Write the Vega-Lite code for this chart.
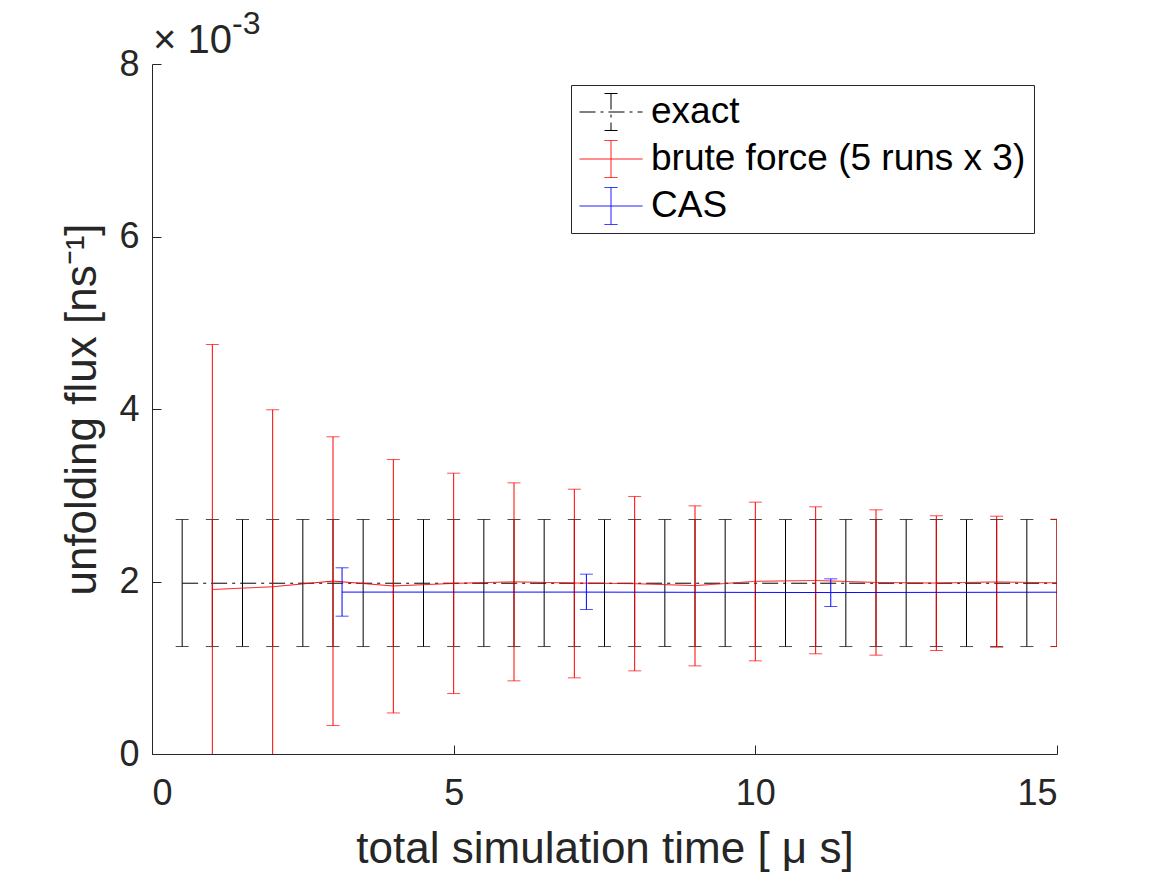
{
  "$schema": "https://vega.github.io/schema/vega-lite/v6.json",
  "width": 905,
  "height": 690,
  "autosize": "none",
  "padding": {"left": 152, "top": 64, "right": 110, "bottom": 121},
  "background": "white",
  "datasets": {
    "exact": [
      {"t": 0.5, "flux": 0.00198, "lo": 0.001246, "hi": 0.002719, "series": "exact"},
      {"t": 1.0, "flux": 0.00198, "lo": 0.001246, "hi": 0.002719, "series": "exact"},
      {"t": 1.5, "flux": 0.00198, "lo": 0.001246, "hi": 0.002719, "series": "exact"},
      {"t": 2.0, "flux": 0.00198, "lo": 0.001246, "hi": 0.002719, "series": "exact"},
      {"t": 2.5, "flux": 0.00198, "lo": 0.001246, "hi": 0.002719, "series": "exact"},
      {"t": 3.0, "flux": 0.00198, "lo": 0.001246, "hi": 0.002719, "series": "exact"},
      {"t": 3.5, "flux": 0.00198, "lo": 0.001246, "hi": 0.002719, "series": "exact"},
      {"t": 4.0, "flux": 0.00198, "lo": 0.001246, "hi": 0.002719, "series": "exact"},
      {"t": 4.5, "flux": 0.00198, "lo": 0.001246, "hi": 0.002719, "series": "exact"},
      {"t": 5.0, "flux": 0.00198, "lo": 0.001246, "hi": 0.002719, "series": "exact"},
      {"t": 5.5, "flux": 0.00198, "lo": 0.001246, "hi": 0.002719, "series": "exact"},
      {"t": 6.0, "flux": 0.00198, "lo": 0.001246, "hi": 0.002719, "series": "exact"},
      {"t": 6.5, "flux": 0.00198, "lo": 0.001246, "hi": 0.002719, "series": "exact"},
      {"t": 7.0, "flux": 0.00198, "lo": 0.001246, "hi": 0.002719, "series": "exact"},
      {"t": 7.5, "flux": 0.00198, "lo": 0.001246, "hi": 0.002719, "series": "exact"},
      {"t": 8.0, "flux": 0.00198, "lo": 0.001246, "hi": 0.002719, "series": "exact"},
      {"t": 8.5, "flux": 0.00198, "lo": 0.001246, "hi": 0.002719, "series": "exact"},
      {"t": 9.0, "flux": 0.00198, "lo": 0.001246, "hi": 0.002719, "series": "exact"},
      {"t": 9.5, "flux": 0.00198, "lo": 0.001246, "hi": 0.002719, "series": "exact"},
      {"t": 10.0, "flux": 0.00198, "lo": 0.001246, "hi": 0.002719, "series": "exact"},
      {"t": 10.5, "flux": 0.00198, "lo": 0.001246, "hi": 0.002719, "series": "exact"},
      {"t": 11.0, "flux": 0.00198, "lo": 0.001246, "hi": 0.002719, "series": "exact"},
      {"t": 11.5, "flux": 0.00198, "lo": 0.001246, "hi": 0.002719, "series": "exact"},
      {"t": 12.0, "flux": 0.00198, "lo": 0.001246, "hi": 0.002719, "series": "exact"},
      {"t": 12.5, "flux": 0.00198, "lo": 0.001246, "hi": 0.002719, "series": "exact"},
      {"t": 13.0, "flux": 0.00198, "lo": 0.001246, "hi": 0.002719, "series": "exact"},
      {"t": 13.5, "flux": 0.00198, "lo": 0.001246, "hi": 0.002719, "series": "exact"},
      {"t": 14.0, "flux": 0.00198, "lo": 0.001246, "hi": 0.002719, "series": "exact"},
      {"t": 14.5, "flux": 0.00198, "lo": 0.001246, "hi": 0.002719, "series": "exact"},
      {"t": 15.0, "flux": 0.00198, "lo": 0.001246, "hi": 0.002719, "series": "exact"}
    ],
    "brute": [
      {"t": 1, "flux": 0.001907, "lo": -0.000934, "hi": 0.004748, "series": "brute force (5 runs x 3)"},
      {"t": 2, "flux": 0.001939, "lo": -0.000113, "hi": 0.003991, "series": "brute force (5 runs x 3)"},
      {"t": 3, "flux": 0.002005, "lo": 0.000330, "hi": 0.003678, "series": "brute force (5 runs x 3)"},
      {"t": 4, "flux": 0.001948, "lo": 0.000476, "hi": 0.003414, "series": "brute force (5 runs x 3)"},
      {"t": 5, "flux": 0.001978, "lo": 0.000701, "hi": 0.003256, "series": "brute force (5 runs x 3)"},
      {"t": 6, "flux": 0.001996, "lo": 0.000848, "hi": 0.003144, "series": "brute force (5 runs x 3)"},
      {"t": 7, "flux": 0.001982, "lo": 0.000883, "hi": 0.003070, "series": "brute force (5 runs x 3)"},
      {"t": 8, "flux": 0.001975, "lo": 0.000964, "hi": 0.002986, "series": "brute force (5 runs x 3)"},
      {"t": 9, "flux": 0.001952, "lo": 0.001022, "hi": 0.002877, "series": "brute force (5 runs x 3)"},
      {"t": 10, "flux": 0.002002, "lo": 0.001080, "hi": 0.002920, "series": "brute force (5 runs x 3)"},
      {"t": 11, "flux": 0.002012, "lo": 0.001162, "hi": 0.002866, "series": "brute force (5 runs x 3)"},
      {"t": 12, "flux": 0.001989, "lo": 0.001146, "hi": 0.002831, "series": "brute force (5 runs x 3)"},
      {"t": 13, "flux": 0.001982, "lo": 0.001200, "hi": 0.002762, "series": "brute force (5 runs x 3)"},
      {"t": 14, "flux": 0.001995, "lo": 0.001238, "hi": 0.002757, "series": "brute force (5 runs x 3)"},
      {"t": 15, "flux": 0.001984, "lo": 0.001246, "hi": 0.002722, "series": "brute force (5 runs x 3)"}
    ],
    "cas": [
      {"t": 3.15, "flux": 0.001877, "lo": 0.001598, "hi": 0.002159, "series": "CAS"},
      {"t": 7.2, "flux": 0.001877, "lo": 0.001675, "hi": 0.002085, "series": "CAS"},
      {"t": 11.25, "flux": 0.001872, "lo": 0.001710, "hi": 0.002031, "series": "CAS"},
      {"t": 15, "flux": 0.001876, "lo": null, "hi": null, "series": "CAS"}
    ],
    "exponent": [
      {"t": 0, "flux": 0.008, "base": "× 10", "power": "-3"}
    ]
  },
  "layer": [
    {
      "data": {"name": "exact"},
      "mark": {"type": "line", "strokeWidth": 1, "clip": true},
      "encoding": {
        "x": {"field": "t", "type": "quantitative", "scale": {"domain": [0, 15], "nice": false},
              "title": "total simulation time [ μ s]",
              "axis": {"values": [0, 5, 10, 15], "format": "d", "labelPadding": 31, "titlePadding": 16}},
        "y": {"field": "flux", "type": "quantitative", "scale": {"domain": [0, 0.008], "nice": false},
              "title": "unfolding flux [ns⁻¹]",
              "axis": {"values": [0, 0.002, 0.004, 0.006, 0.008], "labelExpr": "format(datum.value * 1000, 'd')", "labelPadding": 22, "titlePadding": 14}},
        "color": {"field": "series", "type": "nominal",
                  "scale": {"domain": ["exact", "brute force (5 runs x 3)", "CAS"], "range": ["#000000", "#ff0000", "#0000ff"]},
                  "legend": {"orient": "none", "legendX": 419, "legendY": 21, "title": null}},
        "strokeDash": {"field": "series", "type": "nominal",
                  "scale": {"domain": ["exact", "brute force (5 runs x 3)", "CAS"], "range": [[16, 5, 3, 5], [1, 0], [1, 0]]},
                  "legend": {"orient": "none", "legendX": 419, "legendY": 21, "title": null}}
      }
    },
    {
      "data": {"name": "exact"},
      "mark": {"type": "errorbar", "ticks": {"size": 13}, "thickness": 1, "clip": true},
      "encoding": {
        "x": {"field": "t", "type": "quantitative", "title": "total simulation time [ μ s]"},
        "y": {"field": "lo", "type": "quantitative", "title": "unfolding flux [ns⁻¹]"},
        "y2": {"field": "hi"},
        "color": {"field": "series", "type": "nominal"}
      }
    },
    {
      "data": {"name": "brute"},
      "mark": {"type": "line", "strokeWidth": 1, "clip": true},
      "encoding": {
        "x": {"field": "t", "type": "quantitative", "title": "total simulation time [ μ s]"},
        "y": {"field": "flux", "type": "quantitative", "title": "unfolding flux [ns⁻¹]"},
        "color": {"field": "series", "type": "nominal"},
        "strokeDash": {"field": "series", "type": "nominal"}
      }
    },
    {
      "data": {"name": "brute"},
      "mark": {"type": "errorbar", "ticks": {"size": 13}, "thickness": 1, "clip": true},
      "encoding": {
        "x": {"field": "t", "type": "quantitative", "title": "total simulation time [ μ s]"},
        "y": {"field": "lo", "type": "quantitative", "title": "unfolding flux [ns⁻¹]"},
        "y2": {"field": "hi"},
        "color": {"field": "series", "type": "nominal"}
      }
    },
    {
      "data": {"name": "cas"},
      "mark": {"type": "line", "strokeWidth": 1, "clip": true},
      "encoding": {
        "x": {"field": "t", "type": "quantitative", "title": "total simulation time [ μ s]"},
        "y": {"field": "flux", "type": "quantitative", "title": "unfolding flux [ns⁻¹]"},
        "color": {"field": "series", "type": "nominal"},
        "strokeDash": {"field": "series", "type": "nominal"}
      }
    },
    {
      "data": {"name": "cas"},
      "transform": [{"filter": "datum.lo != null"}],
      "mark": {"type": "errorbar", "ticks": {"size": 13}, "thickness": 1, "clip": true},
      "encoding": {
        "x": {"field": "t", "type": "quantitative", "title": "total simulation time [ μ s]"},
        "y": {"field": "lo", "type": "quantitative", "title": "unfolding flux [ns⁻¹]"},
        "y2": {"field": "hi"},
        "color": {"field": "series", "type": "nominal"}
      }
    },
    {
      "data": {"name": "exponent"},
      "mark": {"type": "text", "align": "left", "baseline": "alphabetic", "dx": 1, "dy": -11, "fontSize": 40, "font": "Liberation Sans", "color": "#262626"},
      "encoding": {
        "x": {"field": "t", "type": "quantitative"},
        "y": {"field": "flux", "type": "quantitative"},
        "text": {"field": "base"}
      }
    },
    {
      "data": {"name": "exponent"},
      "mark": {"type": "text", "align": "left", "baseline": "alphabetic", "dx": 80, "dy": -30, "fontSize": 32, "font": "Liberation Sans", "color": "#262626"},
      "encoding": {
        "x": {"field": "t", "type": "quantitative"},
        "y": {"field": "flux", "type": "quantitative"},
        "text": {"field": "power"}
      }
    }
  ],
  "config": {
    "view": {"stroke": null},
    "font": "Liberation Sans",
    "axis": {
      "domainColor": "#262626", "tickColor": "#262626", "labelColor": "#262626", "titleColor": "#262626",
      "labelFont": "Liberation Sans", "titleFont": "Liberation Sans",
      "labelFontSize": 36, "titleFontSize": 44, "titleFontWeight": "normal",
      "grid": false, "tickSize": -9, "domainWidth": 1, "tickWidth": 1
    },
    "legend": {
      "symbolType": "M-1,0H1M0,-0.587V0.587M-0.206,-0.587H0.206M-0.206,0.587H0.206",
      "symbolSize": 3969,
      "symbolStrokeWidth": 1,
      "symbolOpacity": 1,
      "symbolFillColor": "transparent",
      "labelFont": "Liberation Sans",
      "labelFontSize": 37,
      "labelColor": "#000000",
      "labelOffset": 8,
      "labelLimit": 600,
      "fillColor": "white",
      "strokeColor": "#262626",
      "padding": 8,
      "rowPadding": 9,
      "clipHeight": 38
    }
  }
}
